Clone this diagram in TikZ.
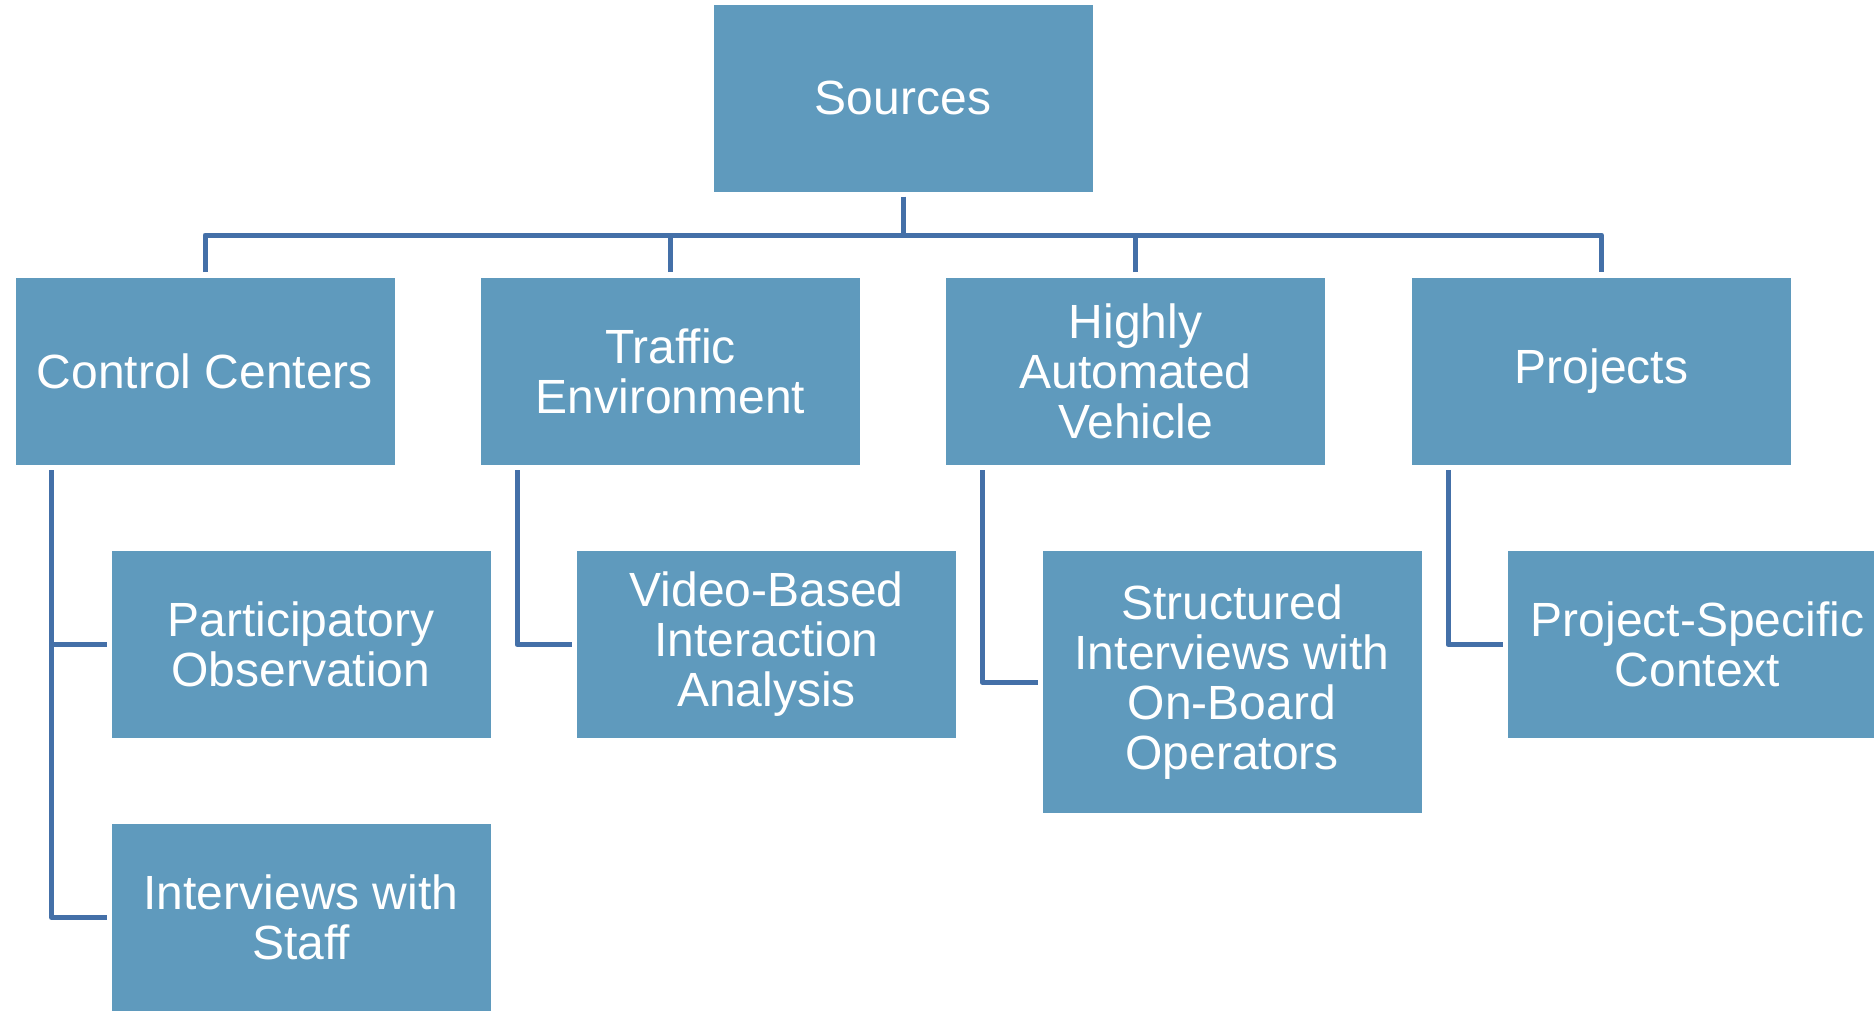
\documentclass[tikz,border=0pt]{standalone}
\usepackage{fontspec}
\setmainfont{Liberation Sans}
\definecolor{boxblue}{HTML}{5F9ABD}
\definecolor{linkblue}{HTML}{4470A8}
\begin{document}
\begin{tikzpicture}[x=0.5pt,y=-0.5pt,
  box/.style={rectangle, fill=boxblue, text=white, minimum width=189.5pt,
    minimum height=93.5pt, inner sep=0pt, outer sep=0pt, align=center,
    font={\fontsize{24}{25}\selectfont}},
  tallbox/.style={box, minimum height=131pt},
  conn/.style={draw=linkblue, line width=2.5pt, line join=round}]
\fill[white] (0,0) rectangle (1874,1012);
\useasboundingbox (0,0) rectangle (1874,1012);
\clip (0,0) rectangle (1874,1012);

\node[box] (src) at (903,98) {Sources};
\node[box] (cc) at (205,371.5) {Control Centers};
\node[box] (te) at (670.5,371.5) {Traffic\\Environment};
\node[box] (hav) at (1135.5,371.5) {Highly\\Automated\\Vehicle};
\node[box] (prj) at (1601.5,371.5) {Projects};
\node[box] (po) at (301,644.5) {Participatory\\Observation};
\node[box] (iws) at (301,917.5) {Interviews with\\Staff};
\node[box] (vb) at (766.5,644.5) {Video-Based\\Interaction\\Analysis};
\node[tallbox] (si) at (1232,682) {Structured\\Interviews with\\On-Board\\Operators};
\node[box] (ps) at (1697.5,644.5) {Project-Specific\\Context};

\coordinate (bus) at (903,235);
\draw[conn] ([yshift=-2.5pt]src.south) -- (src.south |- bus);
\draw[conn] ([yshift=3pt]cc.north) -- (cc.north |- bus) -- (prj.north |- bus) -- ([yshift=3pt]prj.north);
\draw[conn] ([yshift=3pt]te.north) -- (te.north |- bus);
\draw[conn] ([yshift=3pt]hav.north) -- (hav.north |- bus);

\coordinate (ccstem) at ([xshift=18pt,yshift=-2.5pt]cc.south west);
\coordinate (testem) at ([xshift=18pt,yshift=-2.5pt]te.south west);
\coordinate (havstem) at ([xshift=18pt,yshift=-2.5pt]hav.south west);
\coordinate (prjstem) at ([xshift=18pt,yshift=-2.5pt]prj.south west);
\coordinate (poend) at ([xshift=-2.5pt]po.west);
\coordinate (iwsend) at ([xshift=-2.5pt]iws.west);
\coordinate (vbend) at ([xshift=-2.5pt]vb.west);
\coordinate (siend) at ([xshift=-2.5pt]si.west);
\coordinate (psend) at ([xshift=-2.5pt]ps.west);

\draw[conn] (ccstem) |- (iwsend);
\draw[conn] (ccstem |- poend) -- (poend);
\draw[conn] (testem) |- (vbend);
\draw[conn] (havstem) |- (siend);
\draw[conn] (prjstem) |- (psend);
\end{tikzpicture}
\end{document}
